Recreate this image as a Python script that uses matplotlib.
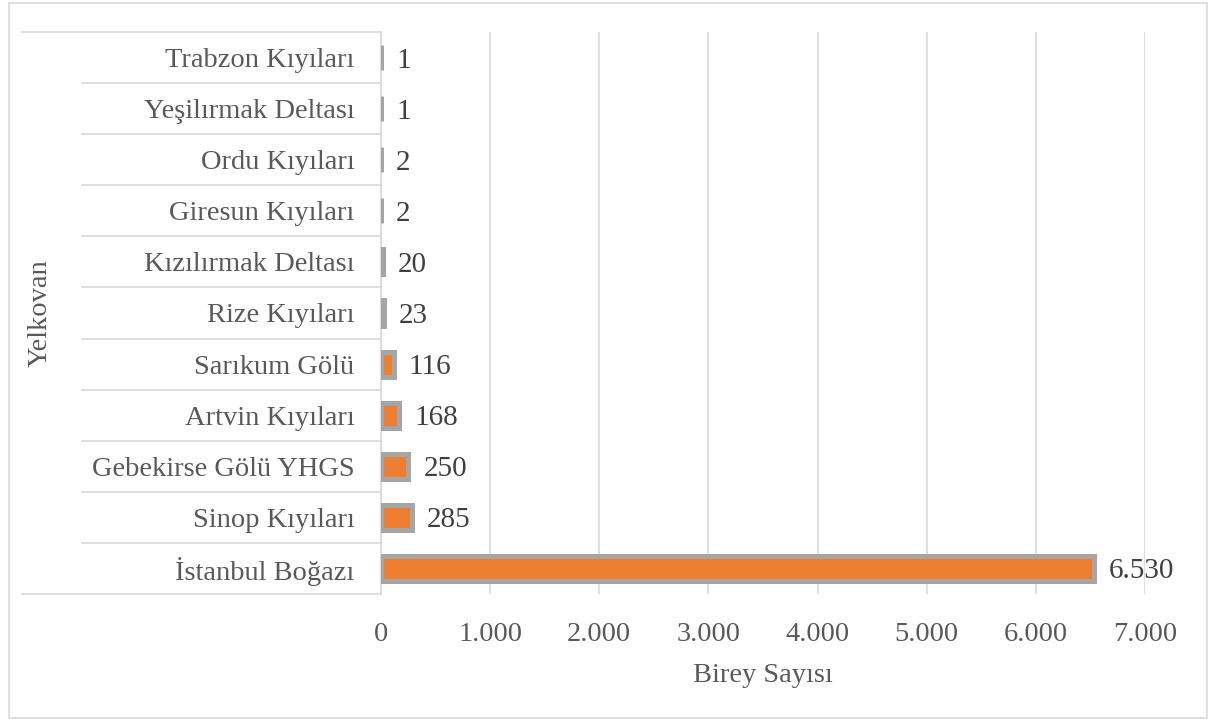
import matplotlib
matplotlib.use("Agg")
import matplotlib.pyplot as plt
import matplotlib.patches as patches
import matplotlib.transforms as mtransforms

plt.rcParams["font.family"] = ["Liberation Serif", "DejaVu Serif"]

# data, bottom to top as drawn
locations = [
    "İstanbul Boğazı",
    "Sinop Kıyıları",
    "Gebekirse Gölü YHGS",
    "Artvin Kıyıları",
    "Sarıkum Gölü",
    "Rize Kıyıları",
    "Kızılırmak Deltası",
    "Giresun Kıyıları",
    "Ordu Kıyıları",
    "Yeşilırmak Deltası",
    "Trabzon Kıyıları",
]
counts = [6530, 285, 250, 168, 116, 23, 20, 2, 2, 1, 1]
x_ticks = [0, 1000, 2000, 3000, 4000, 5000, 6000, 7000]
group_label = "Yelkovan"
x_label = "Birey Sayısı"

W, H = 1208, 720
FS = 20.5
GRID = "#d9d9d9"
TXT = "#595959"

fig = plt.figure(figsize=(W / 100, H / 100), dpi=100)

# plot area in pixels
left_px, right_px, top_px, bottom_px = 381, 1145, 32, 594
ax = fig.add_axes([left_px / W, 1 - bottom_px / H,
                   (right_px - left_px) / W, (bottom_px - top_px) / H])

ypos = list(range(len(locations)))
ax.barh(ypos, counts, height=0.49, color="#ed7d31",
        edgecolor="#a5a5a5", linewidth=3.6, zorder=3)

for y, v in zip(ypos, counts):
    lbl = f"{v:,}".replace(",", ".")
    ax.annotate(lbl, (v, y), xytext=(15, -3), textcoords="offset pixels",
                ha="left", va="center", fontsize=FS + 0.5, color="#404040")

ax.set_xlim(0, 7000)
ax.set_ylim(-0.5, len(locations) - 0.5)
ax.set_xticks(x_ticks)
ax.set_xticklabels([f"{t:,}".replace(",", ".") for t in x_ticks])
ax.tick_params(axis="x", length=0, pad=20, labelsize=FS, labelcolor=TXT)
ax.set_yticks(ypos)
ax.set_yticklabels(locations)
ax.tick_params(axis="y", length=0, pad=19, labelsize=FS, labelcolor=TXT)

ax.grid(axis="x", color=GRID, linewidth=1.2, zorder=0)
ax.set_axisbelow(True)
for s in ["top", "right", "bottom"]:
    ax.spines[s].set_visible(False)
ax.spines["left"].set_color(GRID)
ax.spines["left"].set_linewidth(1.2)

ax.set_xlabel(x_label, fontsize=FS, color=TXT, labelpad=12)

# category table lines (left of the axis)
trans = mtransforms.blended_transform_factory(ax.transAxes, ax.transData)
x_outer = (22 - left_px) / (right_px - left_px)
x_inner = (82 - left_px) / (right_px - left_px)
for i in range(len(locations) + 1):
    yb = i - 0.5
    x0 = x_outer if i in (0, len(locations)) else x_inner
    ax.plot([x0, 0], [yb, yb], transform=trans, color=GRID,
            linewidth=1.2, clip_on=False)

fig.text(40 / W, 1 - 313 / H, group_label, rotation=90, ha="center",
         va="center", fontsize=FS, color=TXT)

fig.patches.append(patches.Rectangle((8.5 / W, 2.5 / H), (1198 / W), (715 / H),
                                     transform=fig.transFigure, fill=False,
                                     edgecolor=GRID, linewidth=1.2))

fig.savefig("out.png", dpi=100)
